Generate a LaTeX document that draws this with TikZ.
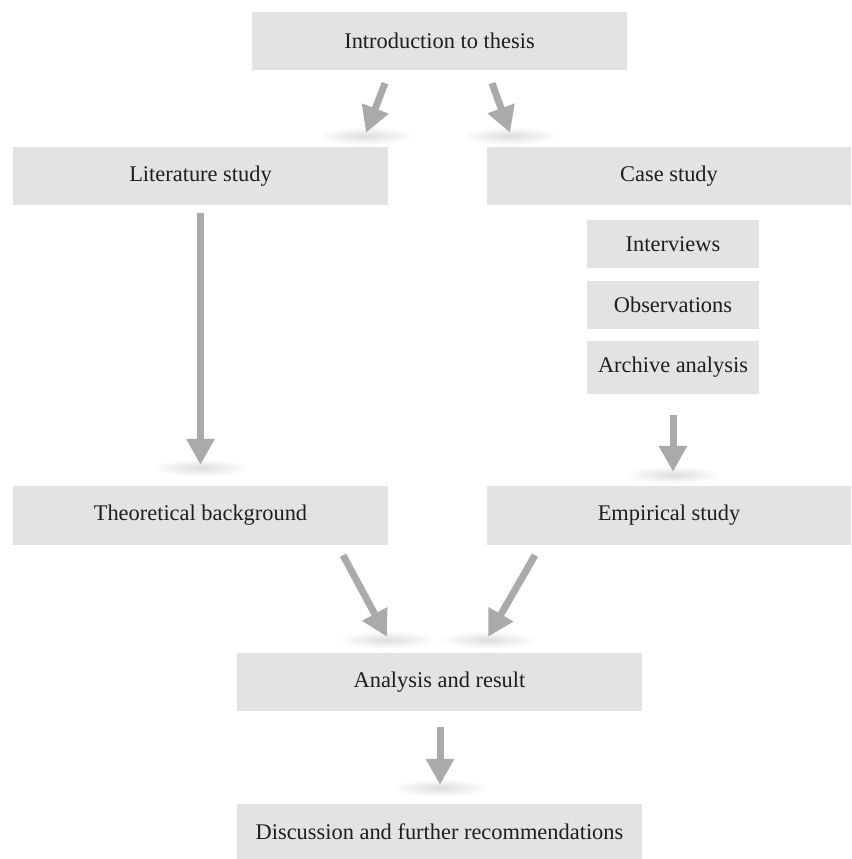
\documentclass[tikz,border=0pt]{standalone}
\usepackage{fontspec}
\setmainfont{Liberation Serif}
\usetikzlibrary{arrows.meta,calc}
\definecolor{boxgray}{HTML}{E2E3E3}
\definecolor{arrowgray}{HTML}{A9AAAA}
\definecolor{txtcol}{HTML}{1E1E1E}
\begin{document}
\begin{tikzpicture}[x=1pt,y=-1pt,
  box/.style={fill=boxgray, inner sep=0pt, text=txtcol, font=\fontsize{22.4}{26}\selectfont},
  bigbox/.style={box, minimum width=375pt, minimum height=58pt},
  sidebox/.style={box, minimum width=364pt, minimum height=58pt},
  widebox/.style={box, minimum width=405pt, minimum height=58pt},
  smallbox/.style={box, minimum width=172pt, minimum height=48pt},
  arr/.style={draw=arrowgray, line width=7pt, -{Triangle[length=26pt,width=27pt]}},
  tipshadow/.style={inner color=black!13, outer color=white}]
\useasboundingbox (0,0) rectangle (851,859);

% boxes
\node[bigbox] (intro) at (439.5,41) {Introduction to thesis};
\node[bigbox] (lit) at (200.5,176) {Literature study};
\node[sidebox] (case) at (669,176) {Case study};
\node[smallbox] (intv) at (673,244) {Interviews};
\node[smallbox] (obs) at (673,305) {Observations};
\node[smallbox, minimum height=53pt] (arch) at (673,367.5) {Archive analysis};
\node[bigbox, minimum height=59pt] (theo) at (200.5,515.5) {Theoretical background};
\node[sidebox, minimum height=59pt] (emp) at (669,515.5) {Empirical study};
\node[widebox] (ana) at (439.5,682) {Analysis and result};
\node[widebox, minimum height=55pt] (disc) at (439.5,831.5) {Discussion and further recommendations};

% arrow end points
\coordinate (a1s) at ($(intro.south)+(-54.5,13)$);
\coordinate (a1e) at ($(lit.north)+(165.5,-14)$);
\coordinate (a2s) at ($(intro.south)+(52.5,13)$);
\coordinate (a2e) at ($(case.north)+(-159,-14)$);
\coordinate (a3s) at ($(lit.south)+(0,8)$);
\coordinate (a3e) at ($(theo.north)+(0,-21)$);
\coordinate (a4s) at ($(arch.south)+(0,21)$);
\coordinate (a4e) at ($(emp.north)+(4,-14)$);
\coordinate (a5s) at ($(theo.south)+(142.5,10)$);
\coordinate (a5e) at ($(ana.north)+(-52.5,-16)$);
\coordinate (a6s) at ($(emp.south)+(-134,10)$);
\coordinate (a6e) at ($(ana.north)+(48.5,-16)$);
\coordinate (a7s) at ($(ana.south)+(0.5,16)$);
\coordinate (a7e) at ($(disc.north)+(0.5,-19)$);

% soft shadows under arrow tips
\foreach \c in {a1e,a2e,a3e,a4e,a5e,a6e,a7e}{
  \shade[tipshadow] ($(\c)+(0,3)$) ellipse (49 and 9);
}

% arrows
\draw[arr] (a1s) -- (a1e);
\draw[arr] (a2s) -- (a2e);
\draw[arr] (a3s) -- (a3e);
\draw[arr] (a4s) -- (a4e);
\draw[arr] (a5s) -- (a5e);
\draw[arr] (a6s) -- (a6e);
\draw[arr] (a7s) -- (a7e);
\end{tikzpicture}
\end{document}
